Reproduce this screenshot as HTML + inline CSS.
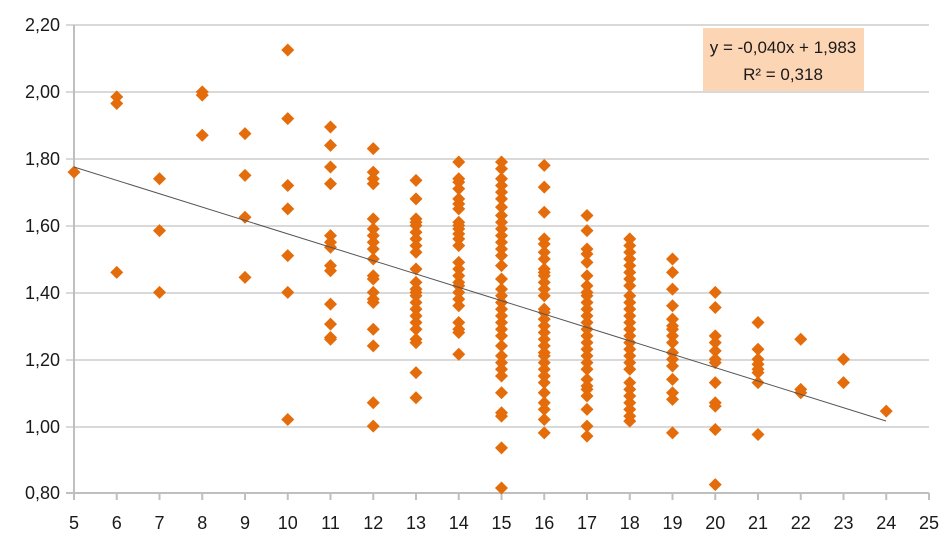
<!DOCTYPE html>
<html><head><meta charset="utf-8"><style>
html,body{margin:0;padding:0;background:#fff;width:948px;height:559px;overflow:hidden}
svg text{font-family:"Liberation Sans",sans-serif;fill:#1a1a1a}
</style></head><body>
<svg id="c" width="948" height="559" xmlns="http://www.w3.org/2000/svg">
<g stroke="#d9d9d9" stroke-width="2">
<line x1="66" y1="25" x2="929" y2="25"/><line x1="66" y1="92" x2="929" y2="92"/>
<line x1="66" y1="159" x2="929" y2="159"/><line x1="66" y1="226" x2="929" y2="226"/>
<line x1="66" y1="293" x2="929" y2="293"/><line x1="66" y1="360" x2="929" y2="360"/>
<line x1="66" y1="427" x2="929" y2="427"/>
</g>
<g stroke="#bfbfbf" stroke-width="2"><line x1="74" y1="25" x2="74" y2="493"/><line x1="66" y1="493" x2="929" y2="493"/></g>
<g id="ticks" stroke="#bfbfbf" stroke-width="2"></g>
<g font-size="18" text-anchor="end">
<text x="60" y="31">2,20</text><text x="60" y="98">2,00</text><text x="60" y="165">1,80</text>
<text x="60" y="232">1,60</text><text x="60" y="299">1,40</text><text x="60" y="366">1,20</text>
<text x="60" y="433">1,00</text><text x="60" y="499">0,80</text>
</g>
<g id="xl" font-size="18" text-anchor="middle"></g>
<g id="pts" fill="#e46c0a"></g>
<line x1="74" y1="167" x2="886" y2="421" stroke="#555" stroke-width="1"/>
<rect x="703" y="28" width="161" height="63" fill="#fcd5b4"/>
<text x="783" y="53" font-size="17" text-anchor="middle">y = -0,040x + 1,983</text>
<text x="783" y="80" font-size="17" text-anchor="middle">R² = 0,318</text>
</svg>
<script>
var X=function(v){return 74+(v-5)*42.75},Y=function(v){return 493-(v-0.8)*334.3};
var d={5:[1.76],6:[1.985,1.965,1.46],7:[1.74,1.585,1.40],8:[2.00,1.99,1.87],9:[1.875,1.75,1.625,1.445],
10:[2.125,1.92,1.72,1.65,1.51,1.40,1.02],
11:[1.895,1.84,1.775,1.725,1.57,1.55,1.535,1.48,1.465,1.365,1.305,1.265,1.26],
12:[1.83,1.76,1.74,1.725,1.62,1.59,1.57,1.55,1.53,1.50,1.45,1.44,1.40,1.38,1.37,1.29,1.24,1.07,1.00],
13:[1.735,1.68,1.62,1.61,1.60,1.58,1.56,1.54,1.52,1.47,1.43,1.41,1.40,1.39,1.37,1.35,1.33,1.31,1.29,1.26,1.25,1.16,1.085],
14:[1.79,1.74,1.73,1.71,1.68,1.665,1.65,1.61,1.60,1.59,1.575,1.56,1.54,1.49,1.47,1.45,1.43,1.42,1.40,1.38,1.36,1.31,1.29,1.28,1.215],
15:[1.79,1.77,1.74,1.72,1.70,1.68,1.655,1.63,1.61,1.59,1.57,1.55,1.53,1.51,1.48,1.44,1.41,1.39,1.37,1.35,1.33,1.31,1.29,1.27,1.24,1.21,1.19,1.17,1.15,1.10,1.04,1.03,0.935,0.815],
16:[1.78,1.715,1.64,1.56,1.545,1.52,1.50,1.47,1.46,1.45,1.43,1.41,1.39,1.35,1.34,1.32,1.30,1.28,1.26,1.24,1.22,1.21,1.19,1.17,1.15,1.13,1.10,1.07,1.05,1.02,0.98],
17:[1.63,1.585,1.53,1.515,1.49,1.45,1.42,1.40,1.39,1.37,1.35,1.33,1.31,1.29,1.27,1.25,1.23,1.21,1.19,1.17,1.14,1.12,1.11,1.09,1.05,1.00,0.97],
18:[1.56,1.54,1.52,1.50,1.48,1.46,1.44,1.42,1.39,1.37,1.35,1.33,1.31,1.29,1.27,1.25,1.23,1.21,1.19,1.17,1.13,1.11,1.09,1.07,1.05,1.03,1.015],
19:[1.50,1.46,1.41,1.36,1.32,1.30,1.29,1.27,1.25,1.22,1.20,1.18,1.14,1.10,1.08,0.98],
20:[1.40,1.355,1.27,1.25,1.225,1.20,1.19,1.13,1.07,1.06,0.99,0.825],
21:[1.31,1.23,1.20,1.185,1.17,1.16,1.13,0.975],22:[1.26,1.11,1.10],23:[1.20,1.13],24:[1.045]};
var ns="http://www.w3.org/2000/svg",p=document.getElementById("pts");
for(var k in d){d[k].forEach(function(v){var x=X(+k),y=Y(v),e=document.createElementNS(ns,"polygon"),s=6.5;
e.setAttribute("points",(x-s)+","+y+" "+x+","+(y-s)+" "+(x+s)+","+y+" "+x+","+(y+s));p.appendChild(e);});}
var t=document.getElementById("ticks"),xl=document.getElementById("xl");
for(var i=5;i<=25;i++){var l=document.createElementNS(ns,"line");l.setAttribute("x1",X(i));l.setAttribute("x2",X(i));
l.setAttribute("y1",493);l.setAttribute("y2",500);t.appendChild(l);
var tx=document.createElementNS(ns,"text");tx.setAttribute("x",X(i));tx.setAttribute("y",529);tx.textContent=i;xl.appendChild(tx);}
</script>
</body></html>
